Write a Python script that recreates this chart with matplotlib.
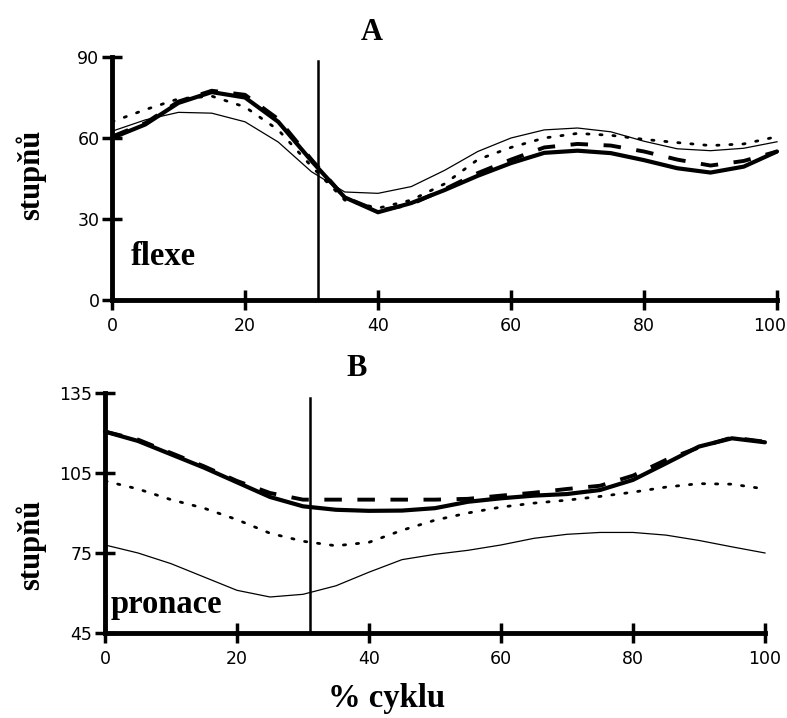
import numpy as np
import matplotlib
matplotlib.use("Agg")
import matplotlib.pyplot as plt
from matplotlib.transforms import ScaledTranslation

# % of cycle
cycle = [0, 5, 10, 15, 20, 25, 30, 35, 40, 45, 50,
         55, 60, 65, 70, 75, 80, 85, 90, 95, 100]

# A - flexe (degrees)
flex_thick = [60, 65, 73, 77, 75, 66, 51.5, 38, 32.5, 35.9, 40.7,
              46, 50.7, 54.5, 55.3, 54.4, 51.8, 48.8, 47.2, 49.4, 55]
flex_thin = [62.5, 66.7, 69.5, 69.2, 66, 58.5, 47.5, 40, 39.5, 42, 48,
             55, 60, 63, 63.7, 62.3, 58.8, 56, 55.3, 56.2, 58.6]
flex_dotted = [66, 70.5, 74.5, 75.5, 71.5, 63, 49.5, 37, 34, 37, 43,
               52, 56.5, 60, 61.7, 61, 59.5, 58.3, 57.2, 57.8, 60.5]
flex_dashed = [60.5, 65.5, 73.5, 77.5, 76, 67, 52, 38, 33, 35.5, 41,
               47, 52, 56.5, 57.8, 57.2, 55, 52, 49.8, 51.5, 55]

# B - pronace (degrees)
pron_thick = [120.5, 117, 112, 107, 101.5, 96, 92.5, 91.2, 90.8, 90.9, 91.8,
              94.2, 95.5, 96.5, 97.1, 98.6, 102.4, 108.6, 114.9, 118, 116.5]
pron_dashed = [120.5, 117.5, 112.5, 107.5, 102, 97.5, 95, 95, 95, 95, 95,
               95.3, 96.5, 97.6, 99, 100.2, 104, 109.9, 114.6, 118.3, 116.7]
pron_dotted = [102, 99, 95, 91.8, 87.5, 82.4, 79.4, 77.7, 79, 83.5, 87.3,
               90, 92.2, 93.7, 94.8, 96.2, 97.8, 99.7, 101, 100.8, 99]
pron_thin = [78, 75, 71, 66, 61, 58.5, 59.5, 62.7, 67.8, 72.5, 74.5,
             76, 78, 80.5, 82, 82.7, 82.7, 81.7, 79.7, 77.3, 75]

marker_x = 31  # vertical line, % cycle

serif = "Liberation Serif"
sans = "DejaVu Sans"

fig = plt.figure(figsize=(7.87, 7.18), dpi=100)
ax1 = fig.add_axes([0.1423, 0.5822, 0.845, 0.3384])
ax2 = fig.add_axes([0.1334, 0.1184, 0.8386, 0.3343])


def draw_panel(ax, ylim, yticks, series, vtop):
    for y, style in series:
        ax.plot(cycle, y, color="black", clip_on=False, **style)
    ax.plot([marker_x, marker_x], [ylim[0], vtop], color="black", lw=1.8)
    ax.set_xlim(0, 100)
    ax.set_ylim(*ylim)
    ax.set_xticks([0, 20, 40, 60, 80, 100])
    ax.set_yticks(yticks)
    for s in ["top", "right"]:
        ax.spines[s].set_visible(False)
    for s in ["left", "bottom"]:
        ax.spines[s].set_linewidth(3.5)
    ax.tick_params(direction="inout", length=14, width=2.5, labelsize=12.5)
    ax.tick_params(axis="x", pad=5)
    ax.tick_params(axis="y", pad=2)
    for lab in ax.get_xticklabels() + ax.get_yticklabels():
        lab.set_family(sans)


thick = dict(lw=3.0, solid_capstyle="round")
thin = dict(lw=0.9)
dashed = dict(lw=2.8, linestyle=(0, (4.5, 4)))
dotted = dict(lw=2.0, linestyle=(0, (0.8, 3.9)), dash_capstyle="round")

draw_panel(ax1, (0, 90), [0, 30, 60, 90],
           [(flex_thin, thin), (flex_dotted, dotted), (flex_dashed, dashed), (flex_thick, thick)],
           88.5)
draw_panel(ax2, (45, 135), [45, 75, 105, 135],
           [(pron_thin, thin), (pron_dotted, dotted), (pron_dashed, dashed), (pron_thick, thick)],
           133)

# keep the last top tick label inside the canvas
fig.canvas.draw()
last = ax1.get_xticklabels()[-1]
last.set_transform(last.get_transform() + ScaledTranslation(-7 / 100, 0, fig.dpi_scale_trans))

txt = dict(family=serif, weight="bold", color="black")
fig.text(372 / 787, 1 - 32 / 718, "A", ha="center", va="center", fontsize=22, **txt)
fig.text(357 / 787, 1 - 368 / 718, "B", ha="center", va="center", fontsize=22, **txt)
fig.text(31 / 787, 1 - 175 / 718, "stupňů", rotation=90, ha="center", va="center", fontsize=22, **txt)
fig.text(31 / 787, 1 - 545 / 718, "stupňů", rotation=90, ha="center", va="center", fontsize=22, **txt)
fig.text(131 / 787, 1 - 257 / 718, "flexe", ha="left", va="center", fontsize=23.5, **txt)
fig.text(111 / 787, 1 - 604 / 718, "pronace", ha="left", va="center", fontsize=23.5, **txt)
fig.text(387 / 787, 1 - 699 / 718, "% cyklu", ha="center", va="center", fontsize=23.5, **txt)

fig.savefig("out.png", dpi=100)
